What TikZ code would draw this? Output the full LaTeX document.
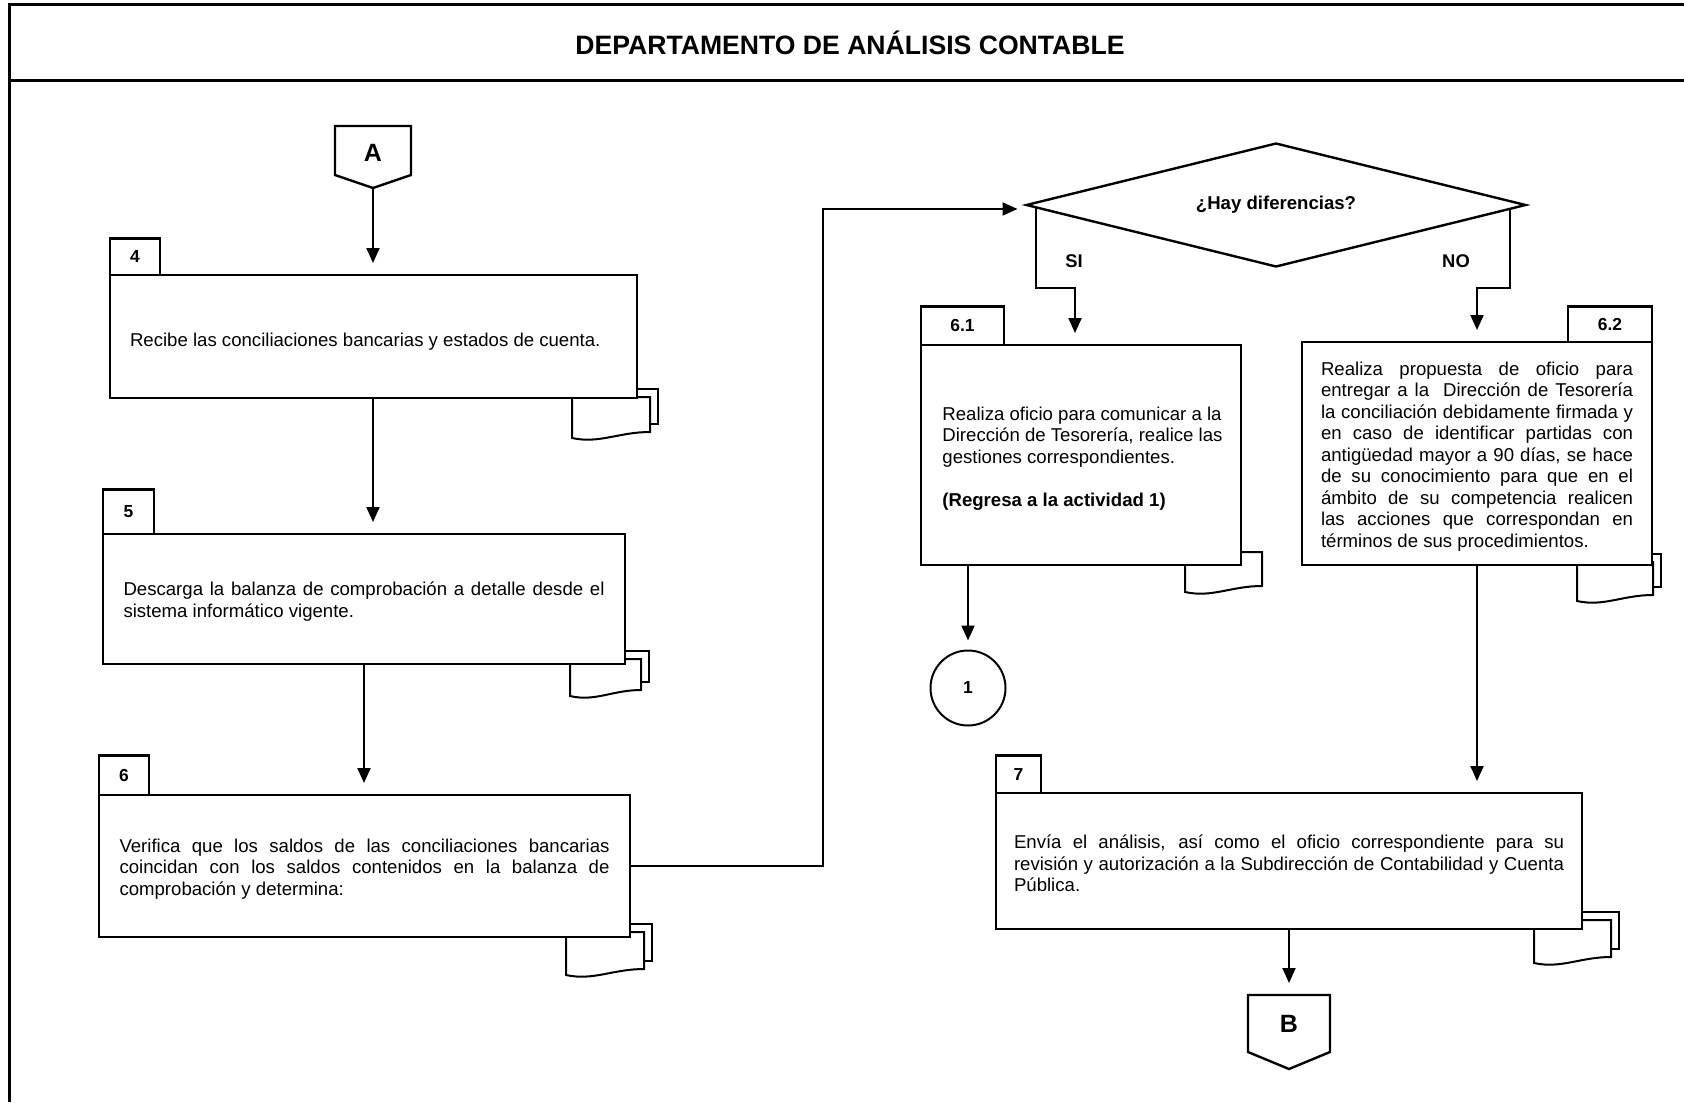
\documentclass[tikz,border=0pt]{standalone}
\usepackage{fontspec}
\setmainfont{Liberation Sans}
\usetikzlibrary{arrows.meta,shapes.geometric,calc}

% one sheet of a document symbol: left x, right x, top y, bottom-right y
\newcommand{\docpage}[4]{%
  \draw[docline] (#1,#3) -- (#2,#3) -- (#2,#4)
    .. controls ({(#2)-0.4*((#2)-(#1))},{#4}) and ({(#1)+0.35*((#2)-(#1))},{(#4)+12}) ..
    (#1,{(#4)+6}) -- cycle;}
% two stacked sheets
\newcommand{\docstack}[4]{%
  \draw[docline] ({(#1)+8},{(#3)-8}) rectangle ({(#2)+8},{(#4)-8});
  \docpage{#1}{#2}{#3}{#4}}

\begin{document}
\begin{tikzpicture}[x=0.5pt,y=-0.5pt,
  frameline/.style={line width=1.5pt},
  stepbox/.style={draw, line width=1.4pt, fill=white, inner sep=0pt, outer sep=0pt},
  steptext/.style={inner sep=0pt, align=justify, font=\fontsize{9.3}{10.75}\selectfont},
  tabbox/.style={draw, line width=1.4pt, fill=white, inner sep=0pt, outer sep=0pt,
    font=\bfseries\fontsize{8.7}{10}\selectfont},
  flow/.style={line width=1pt, -{Triangle[length=7.5pt,width=6.5pt]}, shorten >=6pt},
  docline/.style={line width=1pt, fill=white},
  lbl/.style={inner sep=0pt, font=\bfseries\fontsize{9.2}{10}\selectfont},
  connlbl/.style={inner sep=0pt, font=\bfseries\fontsize{12.5}{14}\selectfont}
]
\useasboundingbox (0,0) rectangle (1684,1102);

% page frame and header
\draw[frameline] (9.5,1102) -- (9.5,4.5) -- (1684,4.5);
\draw[frameline] (9.5,81) -- (1684,81);
\node[inner sep=0pt, font=\bfseries\fontsize{13.3}{15}\selectfont] (title) at (850,43)
  {DEPARTAMENTO DE ANÁLISIS CONTABLE};

% documents behind the steps
\docstack{572}{650}{397}{432}
\docstack{570}{641}{659}{690}
\docstack{566}{644}{932}{969}
\docpage{1185}{1262}{552}{586}
\docstack{1577}{1653}{562}{595}
\docstack{1534}{1611}{920}{957}

% off-page connector A
\draw[line width=1.2pt, fill=white] (335,126) -- (411,126) -- (411,175) -- (373,188) -- (335,175) -- cycle;
\node[connlbl] (A) at (373,153) {A};
\coordinate (Atip) at (373,188);

% step 4
\node[stepbox, minimum width=263.5pt, minimum height=61.5pt] (b4) at (373.5,336.5) {};
\node[steptext, text width=243.5pt] (b4t) at ($(b4.center)+(0,5.4)$)
  {Recibe las conciliaciones bancarias y estados de cuenta.};
\node[tabbox, minimum width=25pt, minimum height=18.4pt, anchor=south west] (t4) at (b4.north west) {4};

% step 5
\node[stepbox, minimum width=261pt, minimum height=65pt] (b5) at (364,599) {};
\node[steptext, text width=240.5pt] (b5t) at ($(b5.center)+(0,2.7)$)
  {Descarga la balanza de comprobación a detalle desde el\linebreak sistema informático vigente.};
\node[tabbox, minimum width=25.5pt, minimum height=22.4pt, anchor=south west] (t5) at (b5.north west) {5};

% step 6
\node[stepbox, minimum width=265.5pt, minimum height=71pt] (b6) at (364.5,866) {};
\node[steptext, text width=245pt] (b6t) at ($(b6.center)+(0,2.7)$)
  {Verifica que los saldos de las conciliaciones bancarias\linebreak coincidan con los saldos contenidos en la balanza de\linebreak comprobación y determina:};
\node[tabbox, minimum width=25pt, minimum height=19.9pt, anchor=south west] (t6) at (b6.north west) {6};

% decision
\node[draw, diamond, aspect=4, line width=1.2pt, fill=white, inner sep=0pt, outer sep=0pt,
  minimum width=249.5pt, minimum height=61.5pt,
  font=\bfseries\fontsize{9.3}{11}\selectfont] (dia) at (1276,205) {¿Hay diferencias?};

% step 6.1
\node[stepbox, minimum width=160pt, minimum height=110pt] (b61) at (1081,455) {};
\node[steptext, align=left, anchor=west] (b61t) at ($(b61.west)+(21,3.5)$)
  {Realiza oficio para comunicar a la\\ Dirección de Tesorería, realice las\\ gestiones correspondientes.\\[10.75pt]
   \textbf{(Regresa a la actividad 1)}};
\node[tabbox, minimum width=41.5pt, minimum height=19.4pt, anchor=south west] (t61) at (b61.north west) {6.1};

% step 6.2
\node[stepbox, minimum width=175pt, minimum height=111.5pt] (b62) at (1477,453.5) {};
\node[steptext, text width=156pt] (b62t) at ($(b62.center)+(0,2.7)$)
  {Realiza propuesta de oficio para\linebreak entregar a la \ Dirección de Tesorería\linebreak
   la conciliación debidamente firmada y\linebreak en caso de identificar partidas con\linebreak
   antigüedad mayor a 90 días, se hace\linebreak de su conocimiento para que en el\linebreak
   ámbito de su competencia realicen\linebreak las acciones que correspondan en\linebreak
   términos de sus procedimientos.};
\node[tabbox, minimum width=42pt, minimum height=17.9pt, anchor=south east] (t62) at (b62.north east) {6.2};

% step 7
\node[stepbox, minimum width=293pt, minimum height=68pt] (b7) at (1289,861) {};
\node[steptext, text width=275pt] (b7t) at ($(b7.center)+(0,2.7)$)
  {Envía el análisis, así como el oficio correspondiente para su\linebreak revisión y autorización a la Subdirección de Contabilidad y Cuenta\linebreak Pública.};
\node[tabbox, minimum width=22.5pt, minimum height=18.9pt, anchor=south west] (t7) at (b7.north west) {7};

% on-page connector 1
\node[draw, circle, line width=1pt, minimum size=37.5pt, inner sep=0pt, outer sep=0pt,
  font=\bfseries\fontsize{8.7}{10}\selectfont] (c1) at (968,688) {1};

% off-page connector B
\draw[line width=1.2pt, fill=white] (1248,995) -- (1330,995) -- (1330,1052) -- (1289,1069) -- (1248,1052) -- cycle;
\node[connlbl] (B) at (1289,1024) {B};
\coordinate (Btop) at (1289,995);

% flow lines
\draw[flow] (Atip) -- (Atip |- b4.north);
\draw[flow] (b4.south -| Atip) -- (b5.north -| Atip);
\draw[flow] (b5.south) -- (b5.south |- b6.north);
\coordinate (turnx) at (823,0);
\draw[flow, shorten >=4.5pt] (b6.east) -- (b6.east -| turnx) |- ($(dia.west)+(0,4)$);

\coordinate (siStart) at ($(dia.west)!0.04!(dia.south)$);
\coordinate (siBend) at (1075,288);
\draw[flow] (siStart) |- (siBend) -- (siBend |- b61.north);
\coordinate (noStart) at ($(dia.east)!0.064!(dia.south)$);
\coordinate (noBend) at (1477,288);
\draw[flow] (noStart) |- (noBend) -- (noBend |- b62.north);
\node[lbl] (si) at (1074,261) {SI};
\node[lbl] (no) at (1456,261) {NO};

\draw[flow, shorten >=5pt] (c1.north |- b61.south) -- (c1.north);
\draw[flow] (b62.south) -- (b62.south |- b7.north);
\draw[flow] (b7.south) -- (Btop);
\end{tikzpicture}
\end{document}
